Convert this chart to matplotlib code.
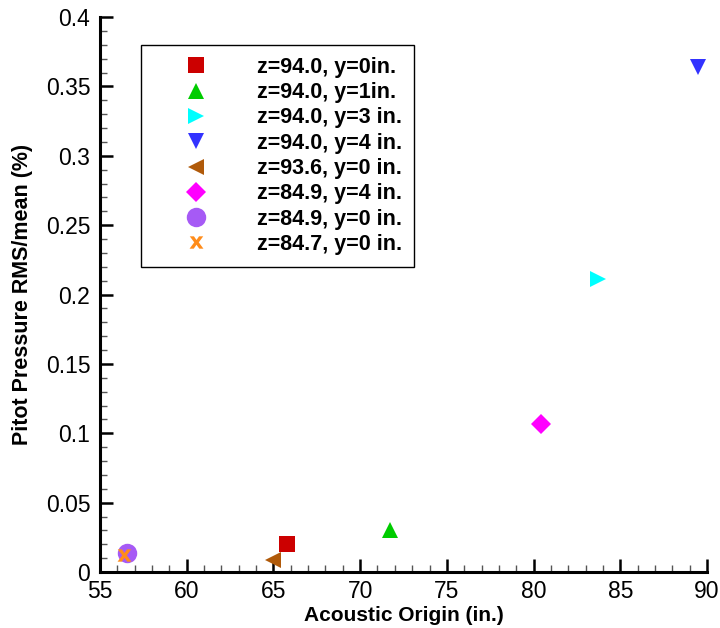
import matplotlib
matplotlib.use("Agg")
import matplotlib.pyplot as plt
from matplotlib.ticker import MultipleLocator

plt.rcParams['font.family'] = ['Liberation Sans', 'DejaVu Sans']

labels = ["z=94.0, y=0in.", "z=94.0, y=1in.", "z=94.0, y=3 in.", "z=94.0, y=4 in.",
          "z=93.6, y=0 in.", "z=84.9, y=4 in.", "z=84.9, y=0 in.", "z=84.7, y=0 in."]
x_vals = [65.8, 71.7, 83.7, 89.5, 65.0, 80.4, 56.55, 56.4]
y_vals = [0.020, 0.030, 0.211, 0.364, 0.009, 0.107, 0.0135, 0.012]
colors = ["#CC0000", "#00CC00", "#00FFFF", "#3333FF", "#B05A0A", "#FF00FF", "#A65AF5", "#FF8C1A"]
markers = ["s", "^", ">", "v", "<", "D", "o", r"$\mathbf{x}$"]
sizes = [11, 12, 12, 12, 12, 10, 14, 10]
xticks = [55, 60, 65, 70, 75, 80, 85, 90]
yticks = [0, 0.05, 0.1, 0.15, 0.2, 0.25, 0.3, 0.35, 0.4]
ytick_labels = ["0", "0.05", "0.1", "0.15", "0.2", "0.25", "0.3", "0.35", "0.4"]

fig = plt.figure(figsize=(7.2, 6.28), dpi=100)
ax = fig.add_axes([100/720, 56/628, 607/720, 555/628])

handles = []
for xv, yv, c, m, s, lab in zip(x_vals, y_vals, colors, markers, sizes, labels):
    h, = ax.plot([xv], [yv], linestyle='none', marker=m, color=c, markersize=s,
                 markeredgewidth=0, label=lab, clip_on=False, zorder=5)
    handles.append(h)

ax.set_xlim(55, 90)
ax.set_ylim(0, 0.4)
ax.set_xticks(xticks)
ax.set_xticklabels([str(t) for t in xticks])
ax.xaxis.set_minor_locator(MultipleLocator(1))
ax.set_yticks(yticks)
ax.set_yticklabels(ytick_labels)
ax.yaxis.set_minor_locator(MultipleLocator(0.01))

for sp in ['top', 'right']:
    ax.spines[sp].set_visible(False)
for sp in ['left', 'bottom']:
    ax.spines[sp].set_linewidth(2.2)

ax.tick_params(which='major', direction='in', length=9.5, width=1.8, labelsize=16.5)
ax.tick_params(axis='x', which='major', pad=6)
ax.tick_params(axis='y', which='major', pad=7)
ax.tick_params(which='minor', direction='in', length=5, width=1.0, color='#555555')

ax.set_xlabel("Acoustic Origin (in.)", fontsize=15, fontweight='bold', labelpad=2)
ax.set_ylabel("Pitot Pressure RMS/mean (%)", fontsize=15.5, fontweight='bold', labelpad=9)

leg = ax.legend(handles=handles, loc='upper left', bbox_to_anchor=(0.0675, 0.9495),
                frameon=True, fancybox=False, edgecolor='black', framealpha=1,
                prop={'weight': 'bold', 'size': 15.5}, labelspacing=0.2,
                handletextpad=0.85, borderpad=0.55, handlelength=4.0, borderaxespad=0)
leg.get_frame().set_linewidth(1.0)

fig.savefig("out.png", dpi=100)
